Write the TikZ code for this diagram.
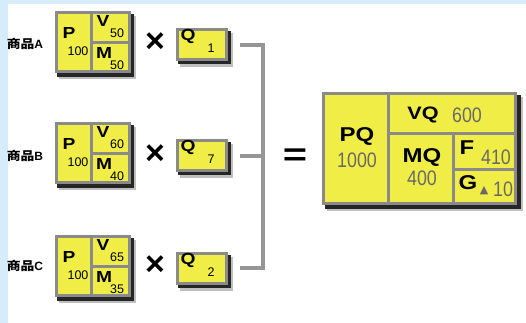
\documentclass[tikz,border=0pt]{standalone}
\usepackage{fontspec}
\setmainfont{Liberation Sans}
\newfontfamily\wide[FakeStretch=1.2]{Liberation Sans Bold}
\newfontfamily\narrow[FakeStretch=0.85]{Liberation Sans}
\newfontfamily\cjk[FakeStretch=1.15]{Noto Sans CJK SC}
\newfontfamily\symfont{DejaVu Sans}
\usetikzlibrary{calc, positioning}

\definecolor{boxyellow}{RGB}{240,238,70}
\definecolor{framegray}{RGB}{138,138,138}
\definecolor{numgray}{RGB}{105,105,105}
\definecolor{bracketgray}{RGB}{150,150,150}
\definecolor{skyblue}{RGB}{215,236,250}

\tikzset{
  boxframe/.style={fill=framegray},
  cell/.style={fill=boxyellow},
  dropshadow/.style={fill=black!85},
  softshade/.style={fill=black!25},
  letter/.style={inner sep=0pt, font=\wide\fontsize{16}{16}\selectfont},
  num/.style={inner sep=0pt, font=\fontsize{12.5}{12.5}\selectfont},
  bigletter/.style={inner sep=0pt, font=\wide\fontsize{20}{20}\selectfont},
  bignum/.style={inner sep=0pt, text=numgray, font=\narrow\fontsize{21}{21}\selectfont},
  itemlabel/.style={inner sep=0pt, font=\bfseries\fontsize{12}{12}\selectfont},
  timesign/.style={inner sep=0pt, font=\bfseries\fontsize{34}{34}\selectfont},
  bracket/.style={draw=bracketgray, line width=3.5pt},
}

\begin{document}
\begin{tikzpicture}[x=1pt, y=-1pt]
    \pgfmathsetmacro{\ya}{11}
    \pgfmathsetmacro{\yb}{122}
    \pgfmathsetmacro{\yc}{235}

    \fill[skyblue] (0,0) rectangle (526,323);
    \fill[white] (8,4) rectangle (526,323);

    % product A
    \node[itemlabel] (ia) at (25,\ya+33) {{\cjk\bfseries 商品}A};
    \fill[softshade] (59,\ya+5) rectangle (136,\ya+68);
    \fill[dropshadow] (57,\ya+3) rectangle (134,\ya+66);
    \fill[boxframe] (55,\ya) rectangle (131,\ya+62);
    \fill[cell] (58,\ya+3) rectangle (90,\ya+59);
    \fill[cell] (93,\ya+3) rectangle (128,\ya+30);
    \fill[cell] (93,\ya+33) rectangle (128,\ya+59);
    \node[letter] (pa) at (69,\ya+22) {P};
    \node[num] (pa-val) at (78,\ya+40) {100};
    \node[letter] (va) at (103,\ya+10) {V};
    \node[num] (va-val) at (117,\ya+22) {50};
    \node[letter] (ma) at (104,\ya+42) {M};
    \node[num] (ma-val) at (117,\ya+54) {50};
    \node[timesign] (xa) at (155,\ya+32) {×};
    \fill[softshade] (180,\ya+22) rectangle (233,\ya+56);
    \fill[dropshadow] (178,\ya+20) rectangle (231,\ya+53);
    \fill[boxframe] (176,\ya+17) rectangle (228,\ya+50);
    \fill[cell] (179,\ya+20) rectangle (225,\ya+47);
    \node[letter] (qa) at (188,\ya+25) {Q};
    \node[num] (qa-val) at (211,\ya+37) {1};

    % product B
    \node[itemlabel] (ib) at (25,\yb+34) {{\cjk\bfseries 商品}B};
    \fill[softshade] (59,\yb+5) rectangle (136,\yb+68);
    \fill[dropshadow] (57,\yb+3) rectangle (134,\yb+66);
    \fill[boxframe] (55,\yb) rectangle (131,\yb+62);
    \fill[cell] (58,\yb+3) rectangle (90,\yb+59);
    \fill[cell] (93,\yb+3) rectangle (128,\yb+30);
    \fill[cell] (93,\yb+33) rectangle (128,\yb+59);
    \node[letter] (pb) at (69,\yb+22) {P};
    \node[num] (pb-val) at (78,\yb+40) {100};
    \node[letter] (vb) at (103,\yb+10) {V};
    \node[num] (vb-val) at (117,\yb+22) {60};
    \node[letter] (mb) at (104,\yb+42) {M};
    \node[num] (mb-val) at (117,\yb+54) {40};
    \node[timesign] (xb) at (155,\yb+33) {×};
    \fill[softshade] (180,\yb+22) rectangle (233,\yb+56);
    \fill[dropshadow] (178,\yb+20) rectangle (231,\yb+53);
    \fill[boxframe] (176,\yb+17) rectangle (228,\yb+50);
    \fill[cell] (179,\yb+20) rectangle (225,\yb+47);
    \node[letter] (qb) at (188,\yb+25) {Q};
    \node[num] (qb-val) at (211,\yb+37) {7};

    % product C
    \node[itemlabel] (ic) at (25,\yc+31) {{\cjk\bfseries 商品}C};
    \fill[softshade] (59,\yc+5) rectangle (136,\yc+68);
    \fill[dropshadow] (57,\yc+3) rectangle (134,\yc+66);
    \fill[boxframe] (55,\yc) rectangle (131,\yc+62);
    \fill[cell] (58,\yc+3) rectangle (90,\yc+59);
    \fill[cell] (93,\yc+3) rectangle (128,\yc+30);
    \fill[cell] (93,\yc+33) rectangle (128,\yc+59);
    \node[letter] (pc) at (69,\yc+22) {P};
    \node[num] (pc-val) at (78,\yc+40) {100};
    \node[letter] (vc) at (103,\yc+10) {V};
    \node[num] (vc-val) at (117,\yc+22) {65};
    \node[letter] (mc) at (104,\yc+42) {M};
    \node[num] (mc-val) at (117,\yc+54) {35};
    \node[timesign] (xc) at (155,\yc+31) {×};
    \fill[softshade] (180,\yc+22) rectangle (233,\yc+56);
    \fill[dropshadow] (178,\yc+20) rectangle (231,\yc+53);
    \fill[boxframe] (176,\yc+17) rectangle (228,\yc+50);
    \fill[cell] (179,\yc+20) rectangle (225,\yc+47);
    \node[letter] (qc) at (188,\yc+25) {Q};
    \node[num] (qc-val) at (211,\yc+37) {2};

    % bracket
    \coordinate (qa-end) at (240,\ya+34);
    \coordinate (qb-end) at (240,\yb+34);
    \coordinate (qc-end) at (240,\yc+33);
    \coordinate (ja) at (263,\ya+34);
    \coordinate (jb) at (263,\yb+34);
    \coordinate (jc) at (263,\yc+33);
    \draw[bracket] (qa-end) -- (ja) -- (jc) -- (qc-end);
    \draw[bracket] (qb-end) -- (jb);

    \node[inner sep=0pt, font=\bfseries\fontsize{32}{32}\selectfont] (eq) at (295,157) {\scalebox{1.3}[1]{=}};

    % result
    \fill[softshade] (327,97) rectangle (523,211);
    \fill[dropshadow] (325,95) rectangle (521,209);
    \fill[boxframe] (322,92) rectangle (517,205);
    \fill[cell] (325,95) rectangle (387,202);
    \fill[cell] (390,95) rectangle (514,132);
    \fill[cell] (390,135) rectangle (452,202);
    \fill[cell] (455,135) rectangle (514,168);
    \fill[cell] (455,171) rectangle (514,202);

    \node[bigletter] (pq) at (357,136) {PQ};
    \node[bignum] (pq-val) at (357,160) {1000};
    \node[bigletter, font=\wide\fontsize{18}{18}\selectfont] (vq) at (423,115) {VQ};
    \node[bignum] (vq-val) at (467,115) {600};
    \node[bigletter] (mq) at (422,157) {MQ};
    \node[bignum] (mq-val) at (422,178) {400};
    \node[bigletter] (f) at (467,148) {F};
    \node[bignum] (f-val) at (496,157) {410};
    \node[bigletter] (g) at (468,183) {G};
    \node[inner sep=0pt, text=numgray, font=\symfont\fontsize{11}{11}\selectfont] (g-tri) at (484,191) {▲};
    \node[bignum] (g-val) at (503,189) {10};
\end{tikzpicture}
\end{document}
